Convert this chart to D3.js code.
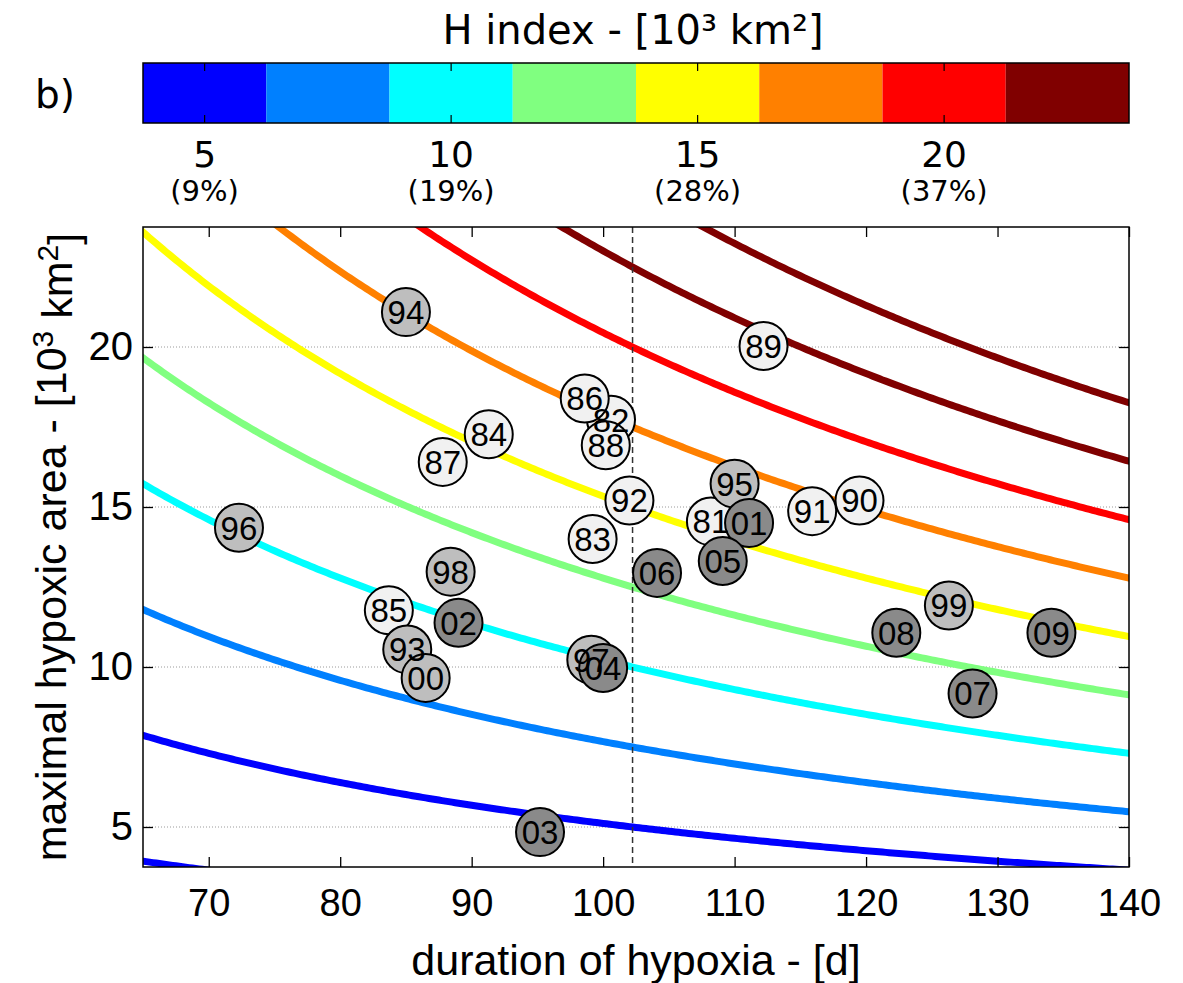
<!DOCTYPE html>
<html>
<head>
<meta charset="utf-8">
<script src="https://cdn.jsdelivr.net/npm/d3@7"></script>
<style>
  body { margin: 0; background: #fff; }
  svg { display: block; }
  .tick text { font-family: "Liberation Sans", Arial, sans-serif; fill: #000; }
</style>
</head>
<body>
<div id="container"></div>
<script>
var width = 1183;
var height = 983;

// years 1981-2009 (two-digit labels), duration of hypoxia [d], max hypoxic area [10^3 km^2]
var years = ["81","82","83","84","85","86","87","88","89","90","91","92","93","94","95",
             "96","97","98","99","00","01","02","03","04","05","06","07","08","09"];
var duration = [108.2, 100.6, 99.2, 91.3, 83.7, 98.6, 87.8, 100.2, 112.2, 119.5, 115.9, 102.0, 85.1, 85.0, 110.0,
                72.3, 99.1, 88.4, 126.3, 86.5, 111.1, 89.0, 95.2, 100.0, 109.1, 104.1, 128.1, 122.3, 134.1];
var area = [14.55, 17.73, 14.0, 17.27, 11.77, 18.39, 16.41, 16.93, 20.03, 15.2, 14.87, 15.2, 10.55, 21.09, 15.73,
            14.35, 10.23, 12.98, 11.92, 9.66, 14.5, 11.38, 4.84, 9.97, 13.31, 12.94, 9.17, 11.07, 11.07];
var group = [0,0,0,0,0,0,0,0,0,0,0,0,1,1,1,1,1,1,1,1,2,2,2,2,2,2,2,2,2];
var groupFill = ["#f1f1f1", "#bebebe", "#8a8a8a"];

// H index contour levels and colorbar
var hLevels = [2.5, 5, 7.5, 10, 12.5, 15, 17.5, 20, 22.5, 25];
var cbBreaks = [6.25, 8.75, 11.25, 13.75, 16.25, 18.75, 21.25];
var cbColors = ["#0000ff", "#0080ff", "#00ffff", "#80ff80", "#ffff00", "#ff8000", "#ff0000", "#800000"];
var cbTicks = [5, 10, 15, 20];
var cbPercent = ["(9%)", "(19%)", "(28%)", "(37%)"];
var xTicks = [70, 80, 90, 100, 110, 120, 130, 140];
var yTicks = [5, 10, 15, 20];

var meanDur = d3.mean(duration);

var pLeft = 143, pRight = 1129, pTop = 227, pBottom = 867;

var x = d3.scaleLinear().domain([65, 140]).range([pLeft, pRight]);
var y = d3.scaleLinear().domain([3.75, 23.75]).range([pBottom, pTop]);
var cx = d3.scaleLinear().domain([3.75, 23.75]).range([pLeft, pRight]);
var color = d3.scaleThreshold().domain(cbBreaks).range(cbColors);

var svg = d3.select("#container")
  .append("svg")
  .attr("width", width)
  .attr("height", height);

// ---- colorbar ----
var cbTop = 63, cbBot = 123;
var cb = svg.append("g");

cb.selectAll("rect.bin")
  .data(cbColors)
  .enter().append("rect")
  .attr("class", "bin")
  .attr("x", function(d, i) { return cx(i == 0 ? 3.75 : cbBreaks[i - 1]); })
  .attr("width", function(d, i) {
    var a = i == 0 ? 3.75 : cbBreaks[i - 1];
    var b = i == cbColors.length - 1 ? 23.75 : cbBreaks[i];
    return cx(b) - cx(a);
  })
  .attr("y", cbTop)
  .attr("height", cbBot - cbTop)
  .attr("fill", function(d) { return d; });

cb.selectAll("line.tb")
  .data(cbTicks)
  .enter().append("line")
  .attr("x1", function(d) { return cx(d); })
  .attr("x2", function(d) { return cx(d); })
  .attr("y1", cbBot).attr("y2", cbBot - 8)
  .attr("stroke", "#000").attr("stroke-width", 1.2);
cb.selectAll("line.tt")
  .data(cbTicks)
  .enter().append("line")
  .attr("x1", function(d) { return cx(d); })
  .attr("x2", function(d) { return cx(d); })
  .attr("y1", cbTop).attr("y2", cbTop + 8)
  .attr("stroke", "#000").attr("stroke-width", 1.2);

cb.append("rect")
  .attr("x", pLeft).attr("y", cbTop)
  .attr("width", pRight - pLeft).attr("height", cbBot - cbTop)
  .attr("fill", "none").attr("stroke", "#000").attr("stroke-width", 1.5);

cb.selectAll("text.num")
  .data(cbTicks)
  .enter().append("text")
  .attr("x", function(d) { return cx(d); })
  .attr("y", 167)
  .attr("text-anchor", "middle")
  .style("font-family", "'DejaVu Sans', sans-serif")
  .style("font-size", "36px")
  .text(function(d) { return d; });

cb.selectAll("text.pct")
  .data(cbPercent)
  .enter().append("text")
  .attr("x", function(d, i) { return cx(cbTicks[i]); })
  .attr("y", 201)
  .attr("text-anchor", "middle")
  .style("font-family", "'DejaVu Sans', sans-serif")
  .style("font-size", "29px")
  .text(function(d) { return d; });

svg.append("text")
  .attr("x", 633).attr("y", 44)
  .attr("text-anchor", "middle")
  .style("font-family", "'DejaVu Sans', sans-serif")
  .style("font-size", "40px")
  .text("H index - [10³ km²]");

svg.append("text")
  .attr("x", 35).attr("y", 108)
  .style("font-family", "'DejaVu Sans', sans-serif")
  .style("font-size", "39px")
  .text("b)");

// ---- plot ----
svg.append("clipPath")
  .attr("id", "clip-plot")
  .append("rect")
  .attr("x", pLeft).attr("y", pTop)
  .attr("width", pRight - pLeft).attr("height", pBottom - pTop);

// grid
svg.append("g")
  .selectAll("line")
  .data(yTicks)
  .enter().append("line")
  .attr("x1", pLeft).attr("x2", pRight)
  .attr("y1", function(d) { return y(d); })
  .attr("y2", function(d) { return y(d); })
  .attr("stroke", "#9a9a9a")
  .attr("stroke-width", 1)
  .attr("stroke-dasharray", "1,2");

// H contours: area = H * meanDur / duration
var line = d3.line()
  .x(function(d) { return x(d[0]); })
  .y(function(d) { return y(d[1]); });

var ds = d3.range(64, 141, 0.25);

svg.append("g")
  .attr("clip-path", "url(#clip-plot)")
  .selectAll("path")
  .data(hLevels)
  .enter().append("path")
  .attr("d", function(h) {
    return line(ds.map(function(d) { return [d, h * meanDur / d]; })
      .filter(function(p) { return p[1] >= 3.6 && p[1] <= 24; }));
  })
  .attr("fill", "none")
  .attr("stroke", function(h) { return color(h); })
  .attr("stroke-width", 7);

// mean duration
svg.append("line")
  .attr("x1", x(meanDur)).attr("x2", x(meanDur))
  .attr("y1", pTop).attr("y2", pBottom)
  .attr("stroke", "#333")
  .attr("stroke-width", 1.5)
  .attr("stroke-dasharray", "6,4");

// axes
var xAxis = svg.append("g")
  .attr("transform", "translate(0," + pBottom + ")")
  .call(d3.axisBottom(x).tickValues(xTicks).tickSizeInner(-10).tickSizeOuter(0).tickPadding(22));
xAxis.select(".domain").remove();
xAxis.selectAll("text").style("font-size", "38px");

var xAxisTop = svg.append("g")
  .attr("transform", "translate(0," + pTop + ")")
  .call(d3.axisTop(x).tickValues(xTicks).tickSizeInner(-10).tickSizeOuter(0).tickFormat(""));
xAxisTop.select(".domain").remove();

var yAxis = svg.append("g")
  .attr("transform", "translate(" + pLeft + ",0)")
  .call(d3.axisLeft(y).tickValues(yTicks).tickSizeInner(-10).tickSizeOuter(0).tickPadding(10));
yAxis.select(".domain").remove();
yAxis.selectAll("text").style("font-size", "40px");

var yAxisRight = svg.append("g")
  .attr("transform", "translate(" + pRight + ",0)")
  .call(d3.axisRight(y).tickValues(yTicks).tickSizeInner(-10).tickSizeOuter(0).tickFormat(""));
yAxisRight.select(".domain").remove();

svg.selectAll(".tick line").attr("stroke-width", 1.3);

svg.append("rect")
  .attr("x", pLeft).attr("y", pTop)
  .attr("width", pRight - pLeft).attr("height", pBottom - pTop)
  .attr("fill", "none").attr("stroke", "#000").attr("stroke-width", 1.5);

// points: circles first, labels on top
var pts = years.map(function(yr, i) {
  return { label: yr, d: duration[i], a: area[i], g: group[i] };
});

svg.append("g")
  .selectAll("circle")
  .data(pts)
  .enter().append("circle")
  .attr("cx", function(p) { return x(p.d); })
  .attr("cy", function(p) { return y(p.a); })
  .attr("r", 24)
  .attr("fill", function(p) { return groupFill[p.g]; })
  .attr("stroke", "#000")
  .attr("stroke-width", 2);

svg.append("g")
  .selectAll("text")
  .data(pts)
  .enter().append("text")
  .attr("x", function(p) { return x(p.d); })
  .attr("y", function(p) { return y(p.a); })
  .attr("dy", "0.36em")
  .attr("text-anchor", "middle")
  .style("font-family", "'Liberation Sans', Arial, sans-serif")
  .style("font-size", "33px")
  .text(function(p) { return p.label; });

// axis labels
svg.append("text")
  .attr("x", (pLeft + pRight) / 2).attr("y", 975)
  .attr("text-anchor", "middle")
  .style("font-family", "'Liberation Sans', Arial, sans-serif")
  .style("font-size", "43px")
  .text("duration of hypoxia - [d]");

var yl = svg.append("text")
  .attr("transform", "translate(66," + (pTop + pBottom) / 2 + ") rotate(-90)")
  .attr("text-anchor", "middle")
  .style("font-family", "'Liberation Sans', Arial, sans-serif")
  .style("font-size", "43px");
yl.append("tspan").text("maximal hypoxic area - [10");
yl.append("tspan").attr("dy", "-0.45em").style("font-size", "30px").text("3");
yl.append("tspan").attr("dy", "0.45em").text(" km");
yl.append("tspan").attr("dy", "-0.45em").style("font-size", "30px").text("2");
yl.append("tspan").attr("dy", "0.45em").text("]");
</script>
</body>
</html>
